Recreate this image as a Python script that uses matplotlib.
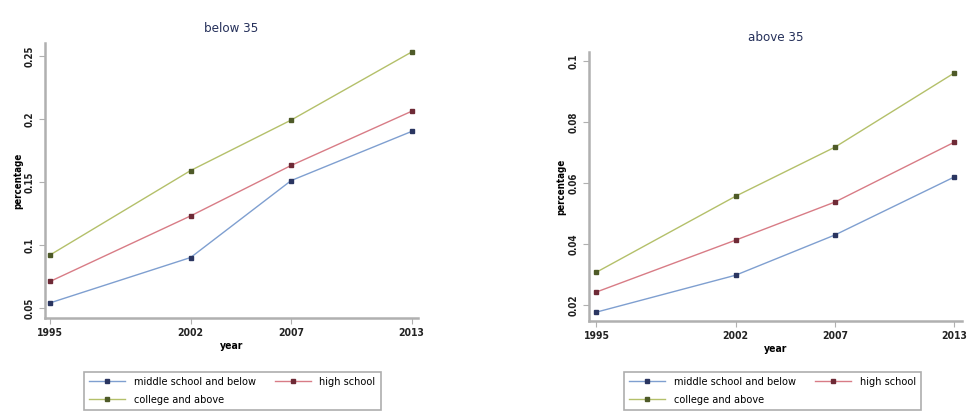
import matplotlib
matplotlib.use('Agg')
import matplotlib.pyplot as plt

plt.rcParams['font.family'] = ['DejaVu Sans']
plt.rcParams['font.stretch'] = 'condensed'

years = [1995, 2002, 2007, 2013]
year_labels = ['1995', '2002', '2007', '2013']

# below 35
below_middle = [0.054, 0.090, 0.151, 0.190]
below_high = [0.071, 0.123, 0.163, 0.206]
below_college = [0.092, 0.159, 0.199, 0.253]
below_ticks = [0.05, 0.10, 0.15, 0.20, 0.25]

# above 35
above_middle = [0.0177, 0.0298, 0.0430, 0.0620]
above_high = [0.0243, 0.0413, 0.0538, 0.0734]
above_college = [0.0308, 0.0557, 0.0718, 0.0961]
above_ticks = [0.02, 0.04, 0.06, 0.08, 0.10]

names = ['middle school and below', 'high school', 'college and above']
line_colors = ['#7f9fd0', '#d87c86', '#b4c06a']
mark_colors = ['#2a3560', '#6e2a36', '#4e5a28']

fig = plt.figure(figsize=(9.68, 4.19), dpi=100)
fig.patch.set_facecolor('white')

panels = [
    ([0.0465, 0.241, 0.385, 0.656], 'below 35',
     [below_middle, below_high, below_college], below_ticks, (0.042, 0.260), (1994.75, 2013.3), 0.240),
    ([0.608, 0.234, 0.386, 0.642], 'above 35',
     [above_middle, above_high, above_college], above_ticks, (0.0148, 0.103), (1994.6, 2013.4), 0.798),
]

for rect, title, series, yt, ylim, xlim, lx in panels:
    ax = fig.add_axes(rect)
    handles = []
    for vals, name, lc, mc in zip(series, names, line_colors, mark_colors):
        h, = ax.plot(years, vals, color=lc, lw=1.0, marker='s', ms=3.5,
                     mfc=mc, mec=mc, label=name)
        handles.append(h)
    ax.set_xlim(*xlim)
    ax.set_ylim(*ylim)
    ax.set_xticks(years)
    ax.set_xticklabels(year_labels, fontsize=7.5, fontweight='bold')
    ax.set_yticks(yt)
    ax.set_yticklabels([f'{t:g}' for t in yt], fontsize=7, fontweight='bold',
                       rotation=90, va='center')
    for s in ['top', 'right']:
        ax.spines[s].set_visible(False)
    for s in ['left', 'bottom']:
        ax.spines[s].set_color('#b0b0b0')
        ax.spines[s].set_linewidth(1.8)
    ax.tick_params(colors='#b0b0b0', labelcolor='#222222', length=4, width=0.8)
    ax.set_title(title, fontsize=9.5, color='#25305a', pad=8)
    ax.set_xlabel('year', fontsize=7.5, fontweight='bold', labelpad=2)
    ax.set_ylabel('percentage', fontsize=7, fontweight='bold', labelpad=1)
    # row 1: middle, high ; row 2: college
    order = [handles[0], handles[2], handles[1]]
    leg = fig.legend(handles=order, loc='center', bbox_to_anchor=(lx, 0.067),
                     ncol=2, fontsize=7.8, frameon=True, fancybox=False,
                     handlelength=3.3, columnspacing=1.8, borderpad=0.5,
                     labelspacing=0.7)
    leg.get_frame().set_edgecolor('#999999')
    leg.get_frame().set_linewidth(1.2)

fig.savefig('out.png', dpi=100, facecolor='white')
